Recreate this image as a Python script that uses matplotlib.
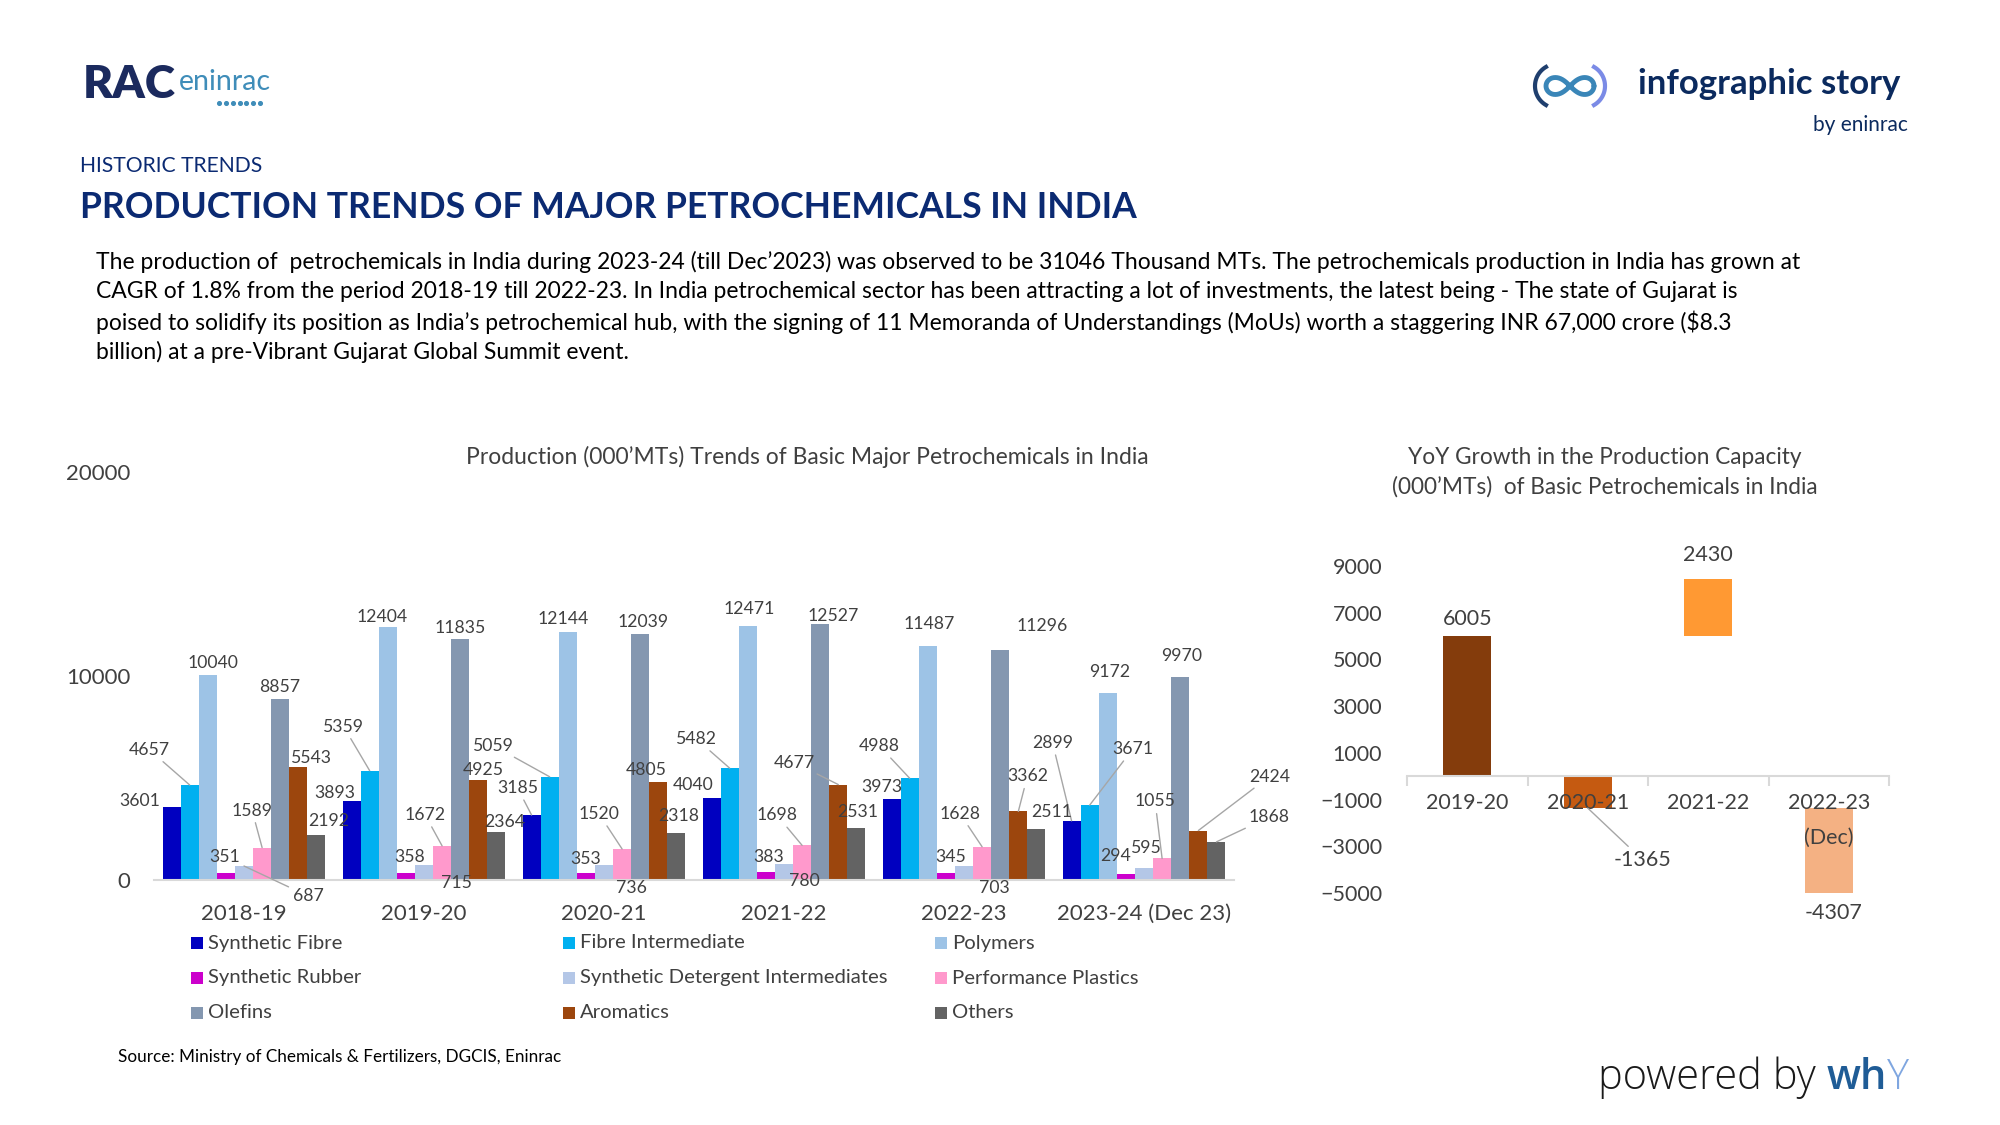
import matplotlib.pyplot as plt
import numpy as np

W, H = 2000, 1125
plt.rcParams["font.family"] = ["Lato", "DejaVu Sans"]

# --- data (000'MTs) ---
years = ["2018-19", "2019-20", "2020-21", "2021-22", "2022-23", "2023-24 (Dec 23)"]
synthetic_fibre = [3601, 3893, 3185, 4040, 3973, 2899]
fibre_intermediate = [4657, 5359, 5059, 5482, 4988, 3671]
polymers = [10040, 12404, 12144, 12471, 11487, 9172]
synthetic_rubber = [351, 358, 353, 383, 345, 294]
detergent_intermediates = [687, 715, 736, 780, 703, 595]
performance_plastics = [1589, 1672, 1520, 1698, 1628, 1055]
olefins = [8857, 11835, 12039, 12527, 11296, 9970]
aromatics = [5543, 4925, 4805, 4677, 3362, 2424]
others = [2192, 2364, 2318, 2531, 2511, 1868]

series_names = ["Synthetic Fibre", "Fibre Intermediate", "Polymers",
                "Synthetic Rubber", "Synthetic Detergent Intermediates",
                "Performance Plastics", "Olefins", "Aromatics", "Others"]
series_values = [synthetic_fibre, fibre_intermediate, polymers,
                 synthetic_rubber, detergent_intermediates, performance_plastics,
                 olefins, aromatics, others]
series_colors = ["#0000C0", "#00B0F0", "#9DC3E6", "#CC00CC", "#B4C7E7",
                 "#FF99CC", "#8497B0", "#9C460D", "#636363"]

yoy_years = ["2019-20", "2020-21", "2021-22", "2022-23\n(Dec)"]
yoy_growth = [6005, -1365, 2430, -4307]
yoy_base = [0, 0, 6005, -1365]
yoy_colors = ["#843C0C", "#C55A11", "#FF9933", "#F4B183"]

# label placement (pixel offsets from bar top, image y down) and leader flags
label_offsets = [
    [(-32, -6), (-17, -8), (-14, -27), (-18, -13), (-10, -12), (-19, -78)],
    [(-40, -35), (-26, -44), (-56, -31), (-33, -29), (-30, -32), (43, -56)],
    [(5, -12), (-6, -10), (-5, -13), (1, -17), (1, -22), (2, -21)],
    [(-1, -16), (4, -16), (0, -14), (3, -15), (5, -16), (-10, -18)],
    [(64, 30), (32, 18), (27, 23), (20, 17), (30, 22), (2, -20)],
    [(-10, -37), (-17, -31), (-23, -35), (-25, -30), (-22, -33), (-7, -57)],
    [(-1, -12), (0, -11), (3, -12), (13, -8), (42, -24), (1, -21)],
    [(13, -9), (5, -10), (-12, -12), (-44, -22), (9, -35), (71, -54)],
    [(12, -14), (8, -10), (2, -17), (1, -16), (15, -17), (53, -25)],
]
leaders = [
    [0, 0, 1, 0, 0, 1],
    [1, 1, 1, 1, 1, 1],
    [0, 0, 0, 0, 0, 0],
    [0, 0, 0, 0, 0, 0],
    [1, 0, 0, 0, 0, 0],
    [1, 1, 1, 1, 1, 1],
    [0, 0, 0, 0, 0, 0],
    [0, 0, 0, 1, 1, 1],
    [0, 0, 0, 0, 0, 1],
]

NAVY = "#0B2A72"
TXT = "#404040"
LEAD = "#A6A6A6"


def fig_rect(x0, y0, x1, y1):
    """pixel box (image coords) -> figure fraction [l, b, w, h]"""
    return [x0 / W, 1 - y1 / H, (x1 - x0) / W, (y1 - y0) / H]


fig = plt.figure(figsize=(20, 11.25), dpi=100)
fig.patch.set_facecolor("white")

# overlay in pixel coordinates for header, legend, logos
over = fig.add_axes([0, 0, 1, 1])
over.set_xlim(0, W)
over.set_ylim(H, 0)
over.axis("off")

# logo left
over.text(83, 84, "RAC", fontsize=33, fontweight="heavy", color="#1B2A5E",
          ha="left", va="center")
over.text(179, 82, "eninrac", fontsize=20.5, color="#3F8DB9", ha="left", va="center")
over.scatter(np.linspace(219, 260, 7), [103] * 7, s=7, color="#3F8DB9")

# logo right: infinity icon
t = np.linspace(0, 2 * np.pi, 300)
lx = 24 * np.cos(t) / (1 + np.sin(t) ** 2)
ly = 24 * np.sin(t) * np.cos(t) / (1 + np.sin(t) ** 2)
over.plot(1570 + lx, 86 + ly, color="#3A86B8", lw=3.5, solid_capstyle="round")
a = np.linspace(np.radians(120), np.radians(240), 50)
over.plot(1557 + 22 * np.cos(a), 86 + 22 * np.sin(a), color="#1F3F6E", lw=3)
over.plot(1583 - 22 * np.cos(a), 86 + 22 * np.sin(a), color="#7B8BE6", lw=3)

over.text(1638, 84, "infographic story", fontsize=25, fontweight="bold",
          color="#0B2A5E", ha="left", va="center")
over.text(1908, 125, "by eninrac", fontsize=15, color="#0B2A5E", ha="right", va="center")

# heading
over.text(80, 166, "HISTORIC TRENDS", fontsize=15.2, color=NAVY, ha="left", va="center")
over.text(80, 207, "PRODUCTION TRENDS OF MAJOR PETROCHEMICALS IN INDIA", fontsize=25.6,
          fontweight="bold", color=NAVY, ha="left", va="center")

para = [
    "The production of  petrochemicals in India during 2023-24 (till Dec\u20192023) was observed to be 31046 Thousand MTs. The petrochemicals production in India has grown at",
    "CAGR of 1.8% from the period 2018-19 till 2022-23. In India petrochemical sector has been attracting a lot of investments, the latest being - The state of Gujarat is",
    "poised to solidify its position as India\u2019s petrochemical hub, with the signing of 11 Memoranda of Understandings (MoUs) worth a staggering INR 67,000 crore ($8.3",
    "billion) at a pre-Vibrant Gujarat Global Summit event.",
]
for i, line in enumerate(para):
    over.text(96, 262 + 30 * i, line, fontsize=16.5, color="black", ha="left", va="center")

# --- left chart ---
ax = fig.add_axes(fig_rect(154, 472, 1234, 880))
n = len(series_names)
w = 0.1006
x = np.arange(len(years))
for j in range(n):
    xs = x + (j - (n - 1) / 2) * w
    ax.bar(xs, series_values[j], width=w, color=series_colors[j], linewidth=0)
    for g in range(len(years)):
        dx, dy = label_offsets[j][g]
        arrow = dict(arrowstyle="-", color=LEAD, lw=1, shrinkA=1, shrinkB=0) if leaders[j][g] else None
        ax.annotate(str(series_values[j][g]), xy=(xs[g], series_values[j][g]),
                    xytext=(dx, -dy), textcoords="offset pixels",
                    ha="center", va="center", fontsize=12.7, color=TXT,
                    arrowprops=arrow, annotation_clip=False)

ax.set_xlim(-0.5, len(years) - 0.5)
ax.set_ylim(0, 20000)
ax.set_yticks([0, 10000, 20000])
ax.set_xticks(x)
ax.set_xticklabels(years)
ax.tick_params(axis="both", length=0, labelsize=16, labelcolor=TXT)
ax.tick_params(axis="y", pad=17)
ax.tick_params(axis="x", pad=17)
for s in ["top", "right", "left"]:
    ax.spines[s].set_visible(False)
ax.spines["bottom"].set_color("#D9D9D9")
ax.spines["bottom"].set_linewidth(1.5)
ax.set_facecolor("none")

over.text(807, 457, "Production (000\u2019MTs) Trends of Basic Major Petrochemicals in India",
          fontsize=16.5, color=TXT, ha="center", va="center")

# legend, 3 columns row-major
for k, name in enumerate(series_names):
    row, col = divmod(k, 3)
    lx0 = [192, 564, 936][col]
    ly0 = [943, 978, 1013][row]
    over.scatter([lx0 + 5], [ly0], marker="s", s=70, color=series_colors[k], linewidths=0)
    over.text(lx0 + 16, ly0, name, fontsize=14.6, color=TXT, ha="left", va="center")

over.text(118, 1057, "Source: Ministry of Chemicals & Fertilizers, DGCIS, Eninrac",
          fontsize=12.3, color="black", ha="left", va="center")

# --- right chart ---
ax2 = fig.add_axes(fig_rect(1407, 566, 1889, 893))
xr = np.arange(len(yoy_years))
ax2.bar(xr, yoy_growth, bottom=yoy_base, width=0.4, color=yoy_colors, linewidth=0)
ax2.set_ylim(-5000, 9000)
ax2.set_xlim(-0.5, len(yoy_years) - 0.5)
ax2.set_yticks(np.arange(-5000, 9001, 2000))
ax2.set_xticks(xr)
ax2.set_xticklabels(yoy_years)
ax2.set_xticks(np.arange(-0.5, len(yoy_years)), minor=True)
ax2.tick_params(axis="both", which="major", length=0, labelsize=15.5, labelcolor=TXT)
ax2.tick_params(axis="y", pad=18)
ax2.tick_params(axis="x", pad=12)
ax2.tick_params(axis="x", which="minor", length=7, color="#D9D9D9", width=1.5)
for s in ["top", "right", "left"]:
    ax2.spines[s].set_visible(False)
ax2.spines["bottom"].set_position(("data", 0))
ax2.spines["bottom"].set_color("#D9D9D9")
ax2.spines["bottom"].set_linewidth(1.5)
ax2.set_facecolor("none")

yoy_offsets = [(0, -17), (55, 52), (0, -24), (5, 20)]
ymin = ax2.get_ylim()[0]
for i, v in enumerate(yoy_growth):
    top = yoy_base[i] + v
    anchor = top if v >= 0 else max(top, ymin)
    dx, dy = yoy_offsets[i]
    arrow = dict(arrowstyle="-", color=LEAD, lw=1, shrinkA=1, shrinkB=0) if i == 1 else None
    ax2.annotate(str(v), xy=(xr[i], anchor), xytext=(dx, -dy), textcoords="offset pixels",
                 ha="center", va="center", fontsize=15.5, color=TXT, arrowprops=arrow,
                 annotation_clip=False)

over.text(1605, 457, "YoY Growth in the Production Capacity", fontsize=16.3, color=TXT,
          ha="center", va="center")
over.text(1605, 487, "(000\u2019MTs)  of Basic Petrochemicals in India", fontsize=16.3,
          color=TXT, ha="center", va="center")

# powered by why
pw = over.text(1598, 1078, "powered by ", fontsize=30, fontweight="light", color="#1A1A1A",
               ha="left", va="center", family=["Open Sans", "DejaVu Sans"])
fig.canvas.draw()
inv = over.transData.inverted()
xe = inv.transform((pw.get_window_extent().x1, 0))[0]
wh = over.text(xe, 1078, "wh", fontsize=30, fontweight="semibold", color="#1F5C96",
               ha="left", va="center", family=["Open Sans", "DejaVu Sans"])
fig.canvas.draw()
xe2 = inv.transform((wh.get_window_extent().x1, 0))[0]
over.text(xe2, 1078, "Y", fontsize=30, fontweight="light", color="#7FA6E0",
          ha="left", va="center", family=["Open Sans", "DejaVu Sans"])

# wider gap for the two-line category label
for tick in ax2.xaxis.get_major_ticks():
    tick.label1.set_linespacing(1.95)

fig.savefig("out.png", dpi=100, facecolor="white")
